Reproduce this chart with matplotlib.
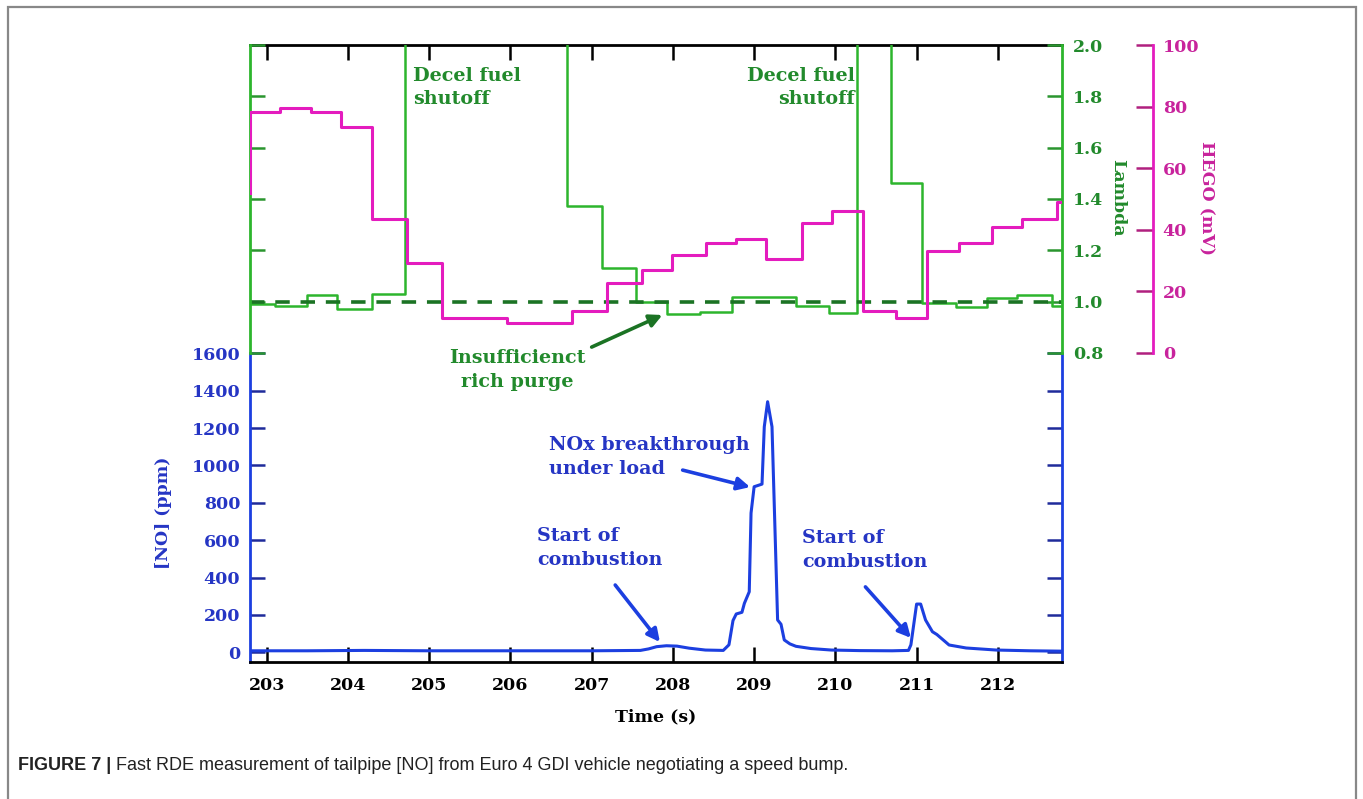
import matplotlib
matplotlib.use("Agg")
import matplotlib.pyplot as plt
from matplotlib import font_manager
from matplotlib.patches import Rectangle

# lambda trace (steps), off-scale values during fuel shutoff
lam_t = [202.79, 203.10, 203.49, 203.87, 204.29, 204.70, 206.70, 207.13, 207.55,
         207.93, 208.33, 208.73, 209.52, 209.92, 210.27, 210.69, 211.07, 211.49,
         211.87, 212.24, 212.67, 212.79]
lam = [0.99, 0.985, 1.027, 0.973, 1.031, 2.6, 1.374, 1.133, 1.0,
       0.953, 0.961, 1.019, 0.984, 0.957, 2.6, 1.464, 0.996, 0.98,
       1.016, 1.027, 0.984, 0.984]

# HEGO sensor voltage (mV), steps
hego_t = [202.79, 202.797, 203.16, 203.55, 203.92, 204.30, 204.73, 205.16, 205.96,
          206.76, 207.19, 207.62, 207.99, 208.41, 208.78, 209.15, 209.59, 209.96,
          210.34, 210.75, 211.13, 211.52, 211.93, 212.30, 212.73, 212.79]
hego = [52, 78.3, 79.4, 78.3, 73.3, 43.3, 29.3, 11.4, 9.8,
        13.7, 22.8, 27.0, 31.9, 35.8, 36.8, 30.6, 42.0, 45.9,
        13.7, 11.4, 33.2, 35.8, 40.7, 43.6, 48.9, 48.9]

# tailpipe NO (ppm)
no_t = [202.79, 203.5, 204.2, 205.0, 206.0, 207.0, 207.6, 207.70, 207.80, 207.92,
        208.05, 208.20, 208.40, 208.62, 208.69, 208.74, 208.78, 208.85, 208.88,
        208.94, 208.962, 209.0, 209.097, 209.125, 209.166, 209.22, 209.289,
        209.331, 209.371, 209.44, 209.515, 209.7, 209.95, 210.3, 210.7, 210.90,
        210.93, 211.0, 211.05, 211.11, 211.195, 211.25, 211.40, 211.61, 211.98,
        212.4, 212.79]
no_ppm = [8, 8, 10, 8, 8, 8, 10, 18, 30, 35,
          33, 22, 12, 10, 40, 170, 205, 214, 262,
          324, 745, 886, 900, 1207, 1341, 1207, 173,
          150, 66, 45, 32, 20, 12, 9, 8, 10,
          40, 258, 258, 173, 110, 95, 39, 23, 12,
          8, 6]

x_ticks = [203, 204, 205, 206, 207, 208, 209, 210, 211, 212]
no_ticks = [0, 200, 400, 600, 800, 1000, 1200, 1400, 1600]
lam_ticks = [0.8, 1.0, 1.2, 1.4, 1.6, 1.8, 2.0]
hego_ticks = [0, 20, 40, 60, 80, 100]

BLUE = "#1c3fe0"
BLUE_TXT = "#2535c4"
BLUE_TICK = "#1f2b9a"
GREEN = "#2db52d"
GREEN_TXT = "#228a2c"
GREEN_DARK = "#1b7324"
MAG = "#e41cbe"
MAG_TXT = "#c8239c"

SERIF = "DejaVu Serif"
tfs = 12.5
afs = 13.8

fig = plt.figure(figsize=(13.63, 7.99), dpi=100)
W, H = 1363, 799
ax = fig.add_axes([250 / W, 1 - 662 / H, 812 / W, 617 / H])
axl = ax.twinx()
axh = ax.twinx()

# NO
ax.plot(no_t, no_ppm, color=BLUE, lw=2.2)
ax.set_xlim(202.794, 212.79)
ax.set_ylim(-52, 3250)
ax.set_xticks(x_ticks)
ax.set_yticks(no_ticks)
ax.tick_params(axis="x", direction="in", top=True, bottom=True, length=11, width=1.8,
               color="black", pad=11)
ax.tick_params(axis="y", direction="in", left=True, right=True, length=11, width=1.8,
               color=BLUE_TICK, labelcolor=BLUE_TXT, pad=7)
for lab in ax.get_xticklabels() + ax.get_yticklabels():
    lab.set_fontfamily(SERIF)
    lab.set_fontweight("bold")
    lab.set_fontsize(tfs)
for s in ["top", "bottom"]:
    ax.spines[s].set_color("black")
    ax.spines[s].set_linewidth(2)
for s in ["left", "right"]:
    ax.spines[s].set_color(BLUE)
    ax.spines[s].set_linewidth(2)
    ax.spines[s].set_bounds(-52, 1600)

# Lambda
axl.plot(lam_t, lam, color=GREEN, lw=1.8, drawstyle="steps-post")
axl.axhline(1.0, color=GREEN_DARK, lw=2.6, ls=(0, (4, 3)))
axl.set_ylim(-0.404, 2.0)
axl.set_yticks(lam_ticks)
axl.yaxis.set_major_formatter(matplotlib.ticker.FormatStrFormatter("%.1f"))
axl.tick_params(axis="y", direction="in", left=True, right=True, labelleft=False,
                labelright=True, length=11, width=1.8, color="#2a952f",
                labelcolor=GREEN_TXT, pad=8)
for lab in axl.get_yticklabels():
    lab.set_fontfamily(SERIF)
    lab.set_fontweight("bold")
    lab.set_fontsize(tfs)
for s in ["top", "bottom"]:
    axl.spines[s].set_visible(False)
for s in ["left", "right"]:
    axl.spines[s].set_color(GREEN)
    axl.spines[s].set_linewidth(2)
    axl.spines[s].set_bounds(0.8, 2.0)

# HEGO
axh.plot(hego_t, hego, color=MAG, lw=2.2, drawstyle="steps-post")
axh.set_ylim(-100.5, 100)
axh.set_yticks(hego_ticks)
axh.spines["right"].set_position(("axes", 903 / 812))
axh.spines["right"].set_bounds(0, 100)
axh.spines["right"].set_color(MAG)
axh.spines["right"].set_linewidth(2)
for s in ["top", "bottom", "left"]:
    axh.spines[s].set_visible(False)
axh.tick_params(axis="y", direction="in", length=12, width=1.8, color="#b0207f",
                labelcolor=MAG_TXT, pad=7)
for lab in axh.get_yticklabels():
    lab.set_fontfamily(SERIF)
    lab.set_fontweight("bold")
    lab.set_fontsize(tfs)

# axis titles
fig.text(163 / W, 1 - 513 / H, "[NO] (ppm)", rotation=90, ha="center", va="center",
         color=BLUE_TXT, fontfamily=SERIF, fontweight="bold", fontsize=tfs)
fig.text(656 / W, 1 - 717 / H, "Time (s)", ha="center", va="center",
         color="black", fontfamily=SERIF, fontweight="bold", fontsize=tfs)
fig.text(1118 / W, 1 - 198 / H, "Lambda", rotation=270, ha="center", va="center",
         color=GREEN_TXT, fontfamily=SERIF, fontweight="bold", fontsize=tfs)
fig.text(1206 / W, 1 - 198 / H, "HEGO (mV)", rotation=270, ha="center", va="center",
         color=MAG_TXT, fontfamily=SERIF, fontweight="bold", fontsize=tfs)

# annotations
txt = dict(fontfamily=SERIF, fontweight="bold", fontsize=afs, linespacing=1.4)
arrow = "-|>,head_length=0.75,head_width=0.38"
axl.text(204.80, 1.915, "Decel fuel\nshutoff", ha="left", va="top", color=GREEN_TXT, **txt)
axl.text(210.24, 1.915, "Decel fuel\nshutoff", ha="right", va="top", color=GREEN_TXT,
         multialignment="right", **txt)
axl.text(206.09, 0.815, "Insufficienct\nrich purge", ha="center", va="top",
         multialignment="center", color=GREEN_TXT, **txt)
axl.annotate("", xy=(207.87, 0.948), xytext=(207.0, 0.823),
             arrowprops=dict(arrowstyle=arrow, color=GREEN_DARK, lw=2.6,
                             shrinkA=0, shrinkB=0))

ax.text(206.48, 1155, "NOx breakthrough\nunder load", ha="left", va="top",
        color=BLUE_TXT, **txt)
ax.annotate("", xy=(208.95, 884), xytext=(208.12, 975),
            arrowprops=dict(arrowstyle=arrow, color=BLUE, lw=2.6, shrinkA=0, shrinkB=0))
ax.text(206.33, 668, "Start of\ncombustion", ha="left", va="top", color=BLUE_TXT, **txt)
ax.annotate("", xy=(207.84, 55), xytext=(207.29, 360),
            arrowprops=dict(arrowstyle=arrow, color=BLUE, lw=2.6, shrinkA=0, shrinkB=0))
ax.text(209.59, 658, "Start of\ncombustion", ha="left", va="top", color=BLUE_TXT, **txt)
ax.annotate("", xy=(210.93, 77), xytext=(210.37, 350),
            arrowprops=dict(arrowstyle=arrow, color=BLUE, lw=2.6, shrinkA=0, shrinkB=0))

# caption
names = {f.name for f in font_manager.fontManager.ttflist}
cap_font = "Liberation Sans Narrow" if "Liberation Sans Narrow" in names else "Liberation Sans"
cap_size = 15.8 if cap_font == "Liberation Sans Narrow" else 13.0
t1 = fig.text(18 / W, 1 - 766 / H, "FIGURE 7 |", ha="left", va="center",
              fontfamily=cap_font, fontweight="bold", fontsize=cap_size, color="#222222")
fig.canvas.draw()
bb = t1.get_window_extent()
fig.text((bb.x1 + 5) / W, 1 - 766 / H,
         "Fast RDE measurement of tailpipe [NO] from Euro 4 GDI vehicle negotiating a speed bump.",
         ha="left", va="center", fontfamily=cap_font, fontsize=cap_size, color="#222222")

# frame around the figure
fig.patches.append(Rectangle((8 / W, -0.02), 1348 / W, 1 - 7 / H + 0.02,
                             transform=fig.transFigure, fill=False,
                             edgecolor="#888888", lw=1.6))

fig.savefig("out.png", dpi=100)
